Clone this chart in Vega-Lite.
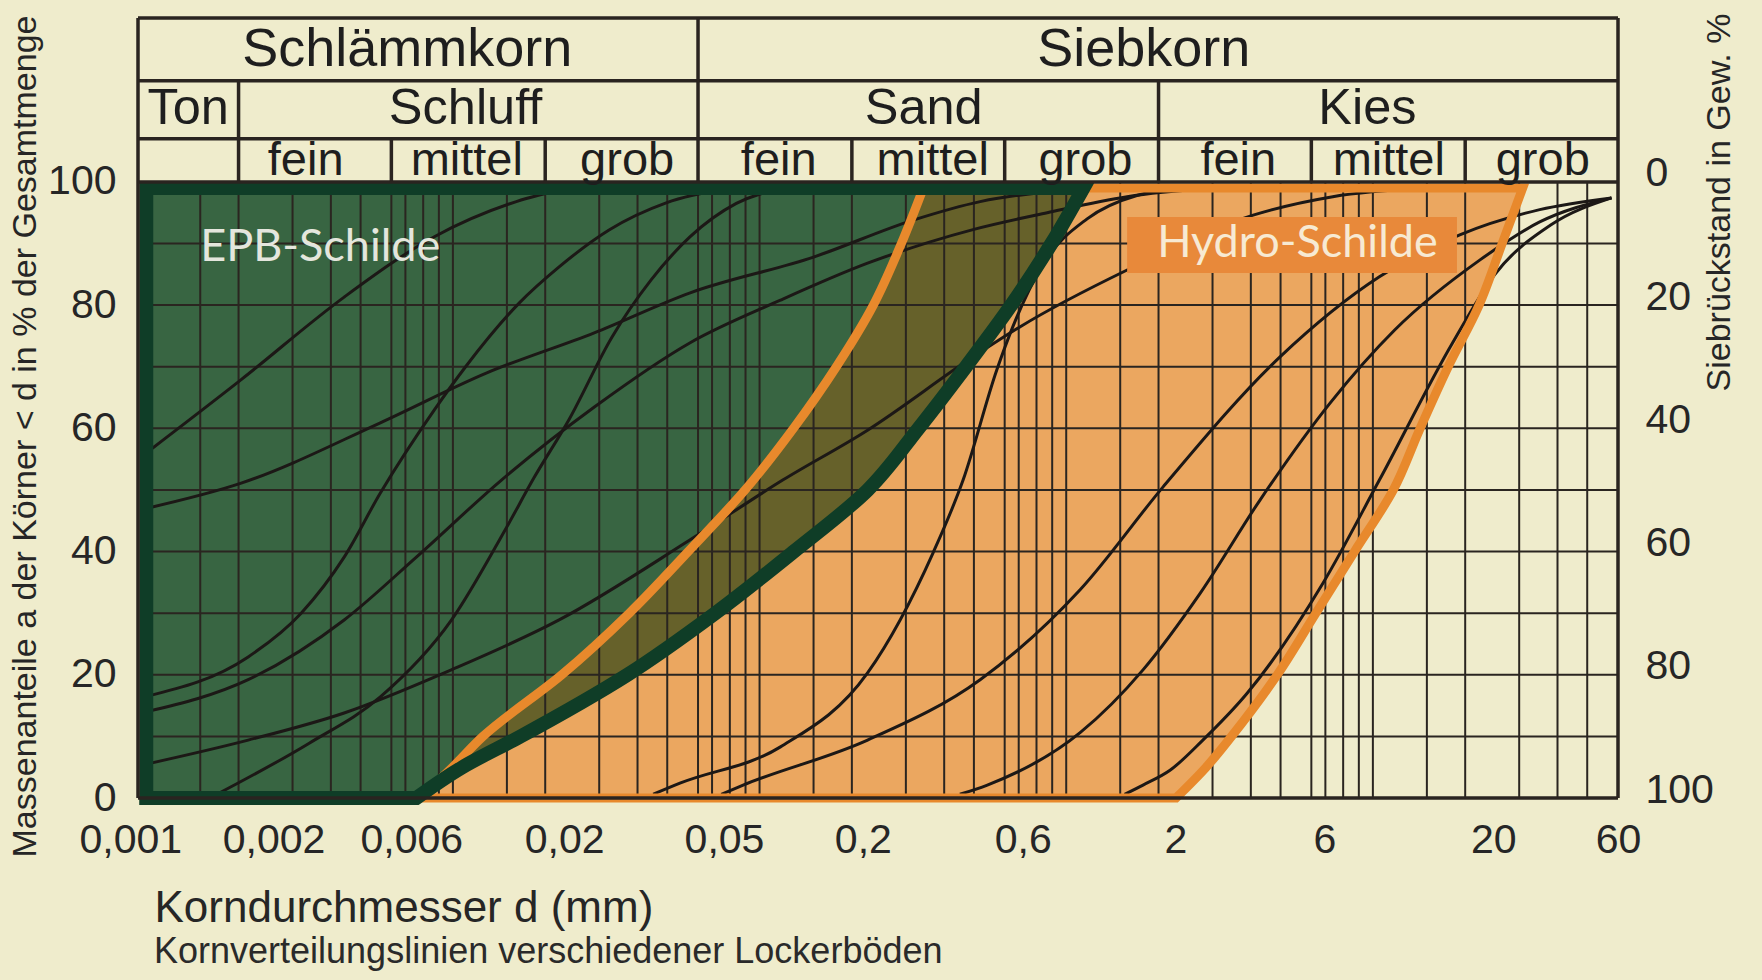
{
  "$schema": "https://vega.github.io/schema/vega-lite/v6.json",
  "width": 1480,
  "height": 780,
  "autosize": {"type": "none"},
  "padding": {"left": 138, "top": 18, "right": 144, "bottom": 182},
  "background": "#efeccc",
  "config": {"view": {"stroke": null}, "font": "Liberation Sans"},
  "title": {
    "text": "Kornverteilungslinien verschiedener Lockerböden",
    "orient": "bottom", "anchor": "start", "frame": "group",
    "fontSize": 36, "font": "Liberation Sans", "fontWeight": "normal",
    "color": "#2a2a2a", "dx": 16, "offset": 5, "baseline": "top"
  },
  "datasets": {
    "vgrid": [
      {"d": 0.0015}, {"d": 0.002}, {"d": 0.003}, {"d": 0.004}, {"d": 0.005}, {"d": 0.0063}, {"d": 0.007}, {"d": 0.008}, {"d": 0.009},
      {"d": 0.01}, {"d": 0.015}, {"d": 0.02}, {"d": 0.03}, {"d": 0.04}, {"d": 0.05}, {"d": 0.063}, {"d": 0.07}, {"d": 0.08}, {"d": 0.09},
      {"d": 0.1}, {"d": 0.15}, {"d": 0.2}, {"d": 0.3}, {"d": 0.4}, {"d": 0.5}, {"d": 0.63}, {"d": 0.7}, {"d": 0.8}, {"d": 0.9},
      {"d": 1}, {"d": 1.5}, {"d": 2}, {"d": 3}, {"d": 4}, {"d": 5}, {"d": 6.3}, {"d": 7}, {"d": 8}, {"d": 9},
      {"d": 10}, {"d": 15}, {"d": 20}, {"d": 30}, {"d": 40}, {"d": 50}
    ],
    "hgrid": [{"a": 10}, {"a": 20}, {"a": 30}, {"a": 40}, {"a": 50}, {"a": 60}, {"a": 70}, {"a": 80}, {"a": 90}],
    "green": [
      {"a": 0, "l": 0.001, "r": 0.0076}, {"a": 5, "l": 0.001, "r": 0.01074}, {"a": 10, "l": 0.001, "r": 0.01663},
      {"a": 20, "l": 0.001, "r": 0.0371}, {"a": 30, "l": 0.001, "r": 0.0718}, {"a": 40, "l": 0.001, "r": 0.1294},
      {"a": 50, "l": 0.001, "r": 0.2254}, {"a": 60, "l": 0.001, "r": 0.33}, {"a": 70, "l": 0.001, "r": 0.471},
      {"a": 80, "l": 0.001, "r": 0.662}, {"a": 90, "l": 0.001, "r": 0.895}, {"a": 99, "l": 0.001, "r": 1.138}
    ],
    "orange": [
      {"a": 0, "l": 0.0078, "r": 2.28}, {"a": 5, "l": 0.00997, "r": 2.86}, {"a": 10, "l": 0.01253, "r": 3.46},
      {"a": 20, "l": 0.02265, "r": 4.88}, {"a": 30, "l": 0.0376, "r": 6.52}, {"a": 40, "l": 0.0585, "r": 8.71},
      {"a": 50, "l": 0.0897, "r": 11.66}, {"a": 60, "l": 0.129, "r": 14.26}, {"a": 70, "l": 0.178, "r": 17.6},
      {"a": 80, "l": 0.235, "r": 22.2}, {"a": 90, "l": 0.29, "r": 26.4}, {"a": 99, "l": 0.342, "r": 30.8}
    ],
    "overlap": [
      {"a": 0, "l": 0.0078, "r": 0.0078}, {"a": 5, "l": 0.00997, "r": 0.01074}, {"a": 10, "l": 0.01253, "r": 0.01663},
      {"a": 20, "l": 0.02265, "r": 0.0371}, {"a": 30, "l": 0.0376, "r": 0.0718}, {"a": 40, "l": 0.0585, "r": 0.1294},
      {"a": 50, "l": 0.0897, "r": 0.2254}, {"a": 60, "l": 0.129, "r": 0.33}, {"a": 70, "l": 0.178, "r": 0.471},
      {"a": 80, "l": 0.235, "r": 0.662}, {"a": 90, "l": 0.29, "r": 0.895}, {"a": 99, "l": 0.342, "r": 1.138}
    ],
    "curves": [
      {"c": "A", "d": 0.001, "a": 56}, {"c": "A", "d": 0.00204, "a": 67.9}, {"c": "A", "d": 0.00442, "a": 81.3}, {"c": "A", "d": 0.0087, "a": 91.1}, {"c": "A", "d": 0.0161, "a": 96.8}, {"c": "A", "d": 0.024, "a": 99},
      {"c": "B", "d": 0.001, "a": 47}, {"c": "B", "d": 0.00204, "a": 51.1}, {"c": "B", "d": 0.0058, "a": 60.9}, {"c": "B", "d": 0.0129, "a": 69}, {"c": "B", "d": 0.0289, "a": 75.5}, {"c": "B", "d": 0.0594, "a": 82}, {"c": "B", "d": 0.15, "a": 87.8}, {"c": "B", "d": 0.317, "a": 93.8}, {"c": "B", "d": 0.524, "a": 96.8}, {"c": "B", "d": 1.0, "a": 98.6}, {"c": "B", "d": 1.6, "a": 99},
      {"c": "C", "d": 0.001, "a": 16.5}, {"c": "C", "d": 0.00215, "a": 22.9}, {"c": "C", "d": 0.0032, "a": 30}, {"c": "C", "d": 0.00442, "a": 39.1}, {"c": "C", "d": 0.0058, "a": 49.5}, {"c": "C", "d": 0.0087, "a": 63}, {"c": "C", "d": 0.011, "a": 70}, {"c": "C", "d": 0.0165, "a": 80.4}, {"c": "C", "d": 0.0222, "a": 86.2}, {"c": "C", "d": 0.0323, "a": 92.2}, {"c": "C", "d": 0.0496, "a": 96.6}, {"c": "C", "d": 0.08, "a": 99},
      {"c": "D", "d": 0.001, "a": 14}, {"c": "D", "d": 0.00215, "a": 19.2}, {"c": "D", "d": 0.00442, "a": 28.9}, {"c": "D", "d": 0.0076, "a": 39.1}, {"c": "D", "d": 0.0144, "a": 51.6}, {"c": "D", "d": 0.029, "a": 63.5}, {"c": "D", "d": 0.0594, "a": 73.9}, {"c": "D", "d": 0.117, "a": 80.8}, {"c": "D", "d": 0.225, "a": 86.8}, {"c": "D", "d": 0.5, "a": 92.3}, {"c": "D", "d": 0.867, "a": 95}, {"c": "D", "d": 1.58, "a": 97.6}, {"c": "D", "d": 3, "a": 99},
      {"c": "E", "d": 0.001, "a": 5.5}, {"c": "E", "d": 0.00215, "a": 9.4}, {"c": "E", "d": 0.00442, "a": 13.8}, {"c": "E", "d": 0.00988, "a": 20.8}, {"c": "E", "d": 0.0222, "a": 28.9}, {"c": "E", "d": 0.0594, "a": 41.9}, {"c": "E", "d": 0.119, "a": 51.6}, {"c": "E", "d": 0.225, "a": 59.7}, {"c": "E", "d": 0.497, "a": 71.6}, {"c": "E", "d": 0.708, "a": 76.5}, {"c": "E", "d": 1.58, "a": 85.7}, {"c": "E", "d": 4.07, "a": 94.6}, {"c": "E", "d": 7.4, "a": 97.6}, {"c": "E", "d": 15, "a": 99},
      {"c": "F", "d": 0.0017, "a": 0.6}, {"c": "F", "d": 0.0034, "a": 8.9}, {"c": "F", "d": 0.0058, "a": 16.4}, {"c": "F", "d": 0.0099, "a": 28.9}, {"c": "F", "d": 0.0148, "a": 43.5}, {"c": "F", "d": 0.0184, "a": 52}, {"c": "F", "d": 0.0239, "a": 61.4}, {"c": "F", "d": 0.033, "a": 74.8}, {"c": "F", "d": 0.0443, "a": 84.1}, {"c": "F", "d": 0.0594, "a": 91.1}, {"c": "F", "d": 0.084, "a": 96.5}, {"c": "F", "d": 0.12, "a": 99},
      {"c": "G", "d": 0.045, "a": 0.6}, {"c": "G", "d": 0.055, "a": 2.4}, {"c": "G", "d": 0.117, "a": 8.3}, {"c": "G", "d": 0.225, "a": 20.3}, {"c": "G", "d": 0.368, "a": 39.8}, {"c": "G", "d": 0.461, "a": 51.6}, {"c": "G", "d": 0.594, "a": 69.5}, {"c": "G", "d": 0.67, "a": 76.5}, {"c": "G", "d": 0.85, "a": 87}, {"c": "G", "d": 1.17, "a": 94}, {"c": "G", "d": 1.7, "a": 97.8}, {"c": "G", "d": 2.5, "a": 99},
      {"c": "H", "d": 0.075, "a": 0.6}, {"c": "H", "d": 0.0884, "a": 2.1}, {"c": "H", "d": 0.225, "a": 9.4}, {"c": "H", "d": 0.524, "a": 19.2}, {"c": "H", "d": 1.11, "a": 33.8}, {"c": "H", "d": 2.07, "a": 50.5}, {"c": "H", "d": 4.98, "a": 71.6}, {"c": "H", "d": 10.5, "a": 84.6}, {"c": "H", "d": 19.2, "a": 91.4}, {"c": "H", "d": 35, "a": 95.5}, {"c": "H", "d": 60, "a": 97.4},
      {"c": "I", "d": 0.45, "a": 0.6}, {"c": "I", "d": 0.553, "a": 2.1}, {"c": "I", "d": 1.11, "a": 10.6}, {"c": "I", "d": 1.78, "a": 20.8}, {"c": "I", "d": 2.74, "a": 33.3}, {"c": "I", "d": 4.29, "a": 48.4}, {"c": "I", "d": 7.25, "a": 64.1}, {"c": "I", "d": 11.8, "a": 76}, {"c": "I", "d": 22.3, "a": 87.3}, {"c": "I", "d": 35, "a": 93.5}, {"c": "I", "d": 60, "a": 97.4},
      {"c": "J", "d": 1.55, "a": 0.6}, {"c": "J", "d": 1.78, "a": 2.1}, {"c": "J", "d": 2.18, "a": 4.5}, {"c": "J", "d": 2.79, "a": 9.4}, {"c": "J", "d": 3.89, "a": 17}, {"c": "J", "d": 6.88, "a": 34.9}, {"c": "J", "d": 10.5, "a": 51.6}, {"c": "J", "d": 18.2, "a": 73.9}, {"c": "J", "d": 25, "a": 85}, {"c": "J", "d": 38, "a": 93}, {"c": "J", "d": 60, "a": 97.4}
    ],
    "frame": [
      {"x1": 0.00094, "x2": 63, "y1": 0, "y2": 0},
      {"x1": 0.00094, "x2": 63, "y1": 100, "y2": 100},
      {"x1": 0.00094, "x2": 63, "y1": 107, "y2": 107},
      {"x1": 0.00094, "x2": 63, "y1": 116.4, "y2": 116.4},
      {"x1": 0.00094, "x2": 63, "y1": 126.6, "y2": 126.6},
      {"x1": 0.00094, "x2": 0.00094, "y1": 0, "y2": 126.6},
      {"x1": 63, "x2": 63, "y1": 0, "y2": 126.6},
      {"x1": 0.063, "x2": 0.063, "y1": 100, "y2": 126.6},
      {"x1": 0.002, "x2": 0.002, "y1": 100, "y2": 116.4},
      {"x1": 2, "x2": 2, "y1": 100, "y2": 116.4},
      {"x1": 0.0063, "x2": 0.0063, "y1": 100, "y2": 107},
      {"x1": 0.02, "x2": 0.02, "y1": 100, "y2": 107},
      {"x1": 0.2, "x2": 0.2, "y1": 100, "y2": 107},
      {"x1": 0.63, "x2": 0.63, "y1": 100, "y2": 107},
      {"x1": 6.3, "x2": 6.3, "y1": 100, "y2": 107},
      {"x1": 20, "x2": 20, "y1": 100, "y2": 107}
    ],
    "header": [
      {"t": "Schlämmkorn", "d": 0.0071, "a": 121.4, "row": 1},
      {"t": "Siebkorn", "d": 1.79, "a": 121.4, "row": 1},
      {"t": "Ton", "d": 0.00137, "a": 111.8, "row": 2},
      {"t": "Schluff", "d": 0.011, "a": 111.8, "row": 2},
      {"t": "Sand", "d": 0.343, "a": 111.8, "row": 2},
      {"t": "Kies", "d": 9.6, "a": 111.8, "row": 2},
      {"t": "fein", "d": 0.00331, "a": 103.4, "row": 3},
      {"t": "mittel", "d": 0.0111, "a": 103.4, "row": 3},
      {"t": "grob", "d": 0.037, "a": 103.4, "row": 3},
      {"t": "fein", "d": 0.1155, "a": 103.4, "row": 3},
      {"t": "mittel", "d": 0.367, "a": 103.4, "row": 3},
      {"t": "grob", "d": 1.155, "a": 103.4, "row": 3},
      {"t": "fein", "d": 3.64, "a": 103.4, "row": 3},
      {"t": "mittel", "d": 11.27, "a": 103.4, "row": 3},
      {"t": "grob", "d": 35.8, "a": 103.4, "row": 3}
    ],
    "hbox": [{"x1": 1.58, "x2": 18.8, "y1": 85.2, "y2": 94.3}],
    "hydro": [{"t": "Hydro-Schilde", "d": 1.98, "a": 90.1}],
    "epb": [{"t": "EPB-Schilde", "d": 0.0015, "a": 89.4}]
  },
  "resolve": {"axis": {"x": "independent", "y": "independent"}},
  "layer": [
    {
      "data": {"name": "green"},
      "mark": {"type": "area", "orient": "horizontal", "interpolate": "monotone", "fill": "#386542"},
      "encoding": {
        "y": {"field": "a", "type": "quantitative", "scale": {"domain": [0, 126.6], "nice": false, "zero": false}, "axis": null},
        "x": {"field": "l", "type": "quantitative", "scale": {"type": "log", "domain": [0.00094, 63], "nice": false}, "axis": null},
        "x2": {"field": "r"}
      }
    },
    {
      "data": {"name": "orange"},
      "mark": {"type": "area", "orient": "horizontal", "interpolate": "monotone", "fill": "#eba760"},
      "encoding": {
        "y": {"field": "a", "type": "quantitative", "scale": {"domain": [0, 126.6], "nice": false, "zero": false}, "axis": null},
        "x": {"field": "l", "type": "quantitative", "scale": {"type": "log", "domain": [0.00094, 63], "nice": false}, "axis": null},
        "x2": {"field": "r"}
      }
    },
    {
      "data": {"name": "overlap"},
      "mark": {"type": "area", "orient": "horizontal", "interpolate": "monotone", "fill": "#66612a"},
      "encoding": {
        "y": {"field": "a", "type": "quantitative", "scale": {"domain": [0, 126.6], "nice": false, "zero": false}, "axis": null},
        "x": {"field": "l", "type": "quantitative", "scale": {"type": "log", "domain": [0.00094, 63], "nice": false}, "axis": null},
        "x2": {"field": "r"}
      }
    },
    {
      "data": {"name": "vgrid"},
      "mark": {"type": "rule", "stroke": "#2a2520", "strokeWidth": 2},
      "encoding": {
        "x": {
          "field": "d", "type": "quantitative",
          "scale": {"type": "log", "domain": [0.00094, 63], "nice": false},
          "axis": {
            "orient": "bottom",
            "values": [0.001, 0.002, 0.0063, 0.02, 0.063, 0.2, 0.63, 2, 6.3, 20, 63],
            "labelExpr": "datum.value < 0.0015 ? '0,001' : datum.value < 0.003 ? '0,002' : datum.value < 0.01 ? '0,006' : datum.value < 0.03 ? '0,02' : datum.value < 0.1 ? '0,05' : datum.value < 0.3 ? '0,2' : datum.value < 1 ? '0,6' : datum.value < 3 ? '2' : datum.value < 10 ? '6' : datum.value < 30 ? '20' : '60'",
            "labelOffset": {
              "condition": [
                {"test": "datum.value < 0.0015", "value": -16},
                {"test": "datum.value < 0.003", "value": 35},
                {"test": "datum.value < 0.01", "value": 20},
                {"test": "datum.value < 0.03", "value": 19},
                {"test": "datum.value < 0.1", "value": 26},
                {"test": "datum.value < 0.3", "value": 11},
                {"test": "datum.value < 1", "value": 18},
                {"test": "datum.value < 3", "value": 17},
                {"test": "datum.value < 10", "value": 13},
                {"test": "datum.value < 30", "value": 28}
              ],
              "value": 0
            },
            "labelFontSize": 41, "labelFont": "Liberation Sans", "labelColor": "#262626",
            "labelPadding": 22, "ticks": false, "domain": false, "grid": false,
            "labelOverlap": false, "labelFlush": false, "labelBound": false,
            "title": "Korndurchmesser d (mm)", "titleFontSize": 44, "titleFontWeight": "normal",
            "titleFont": "Liberation Sans", "titleColor": "#262626",
            "titleX": 16, "titleY": 110, "titleAlign": "left", "titleBaseline": "middle", "titleAngle": 0
          }
        },
        "y": {"datum": 0, "type": "quantitative", "scale": {"domain": [0, 126.6], "nice": false, "zero": false}, "axis": null},
        "y2": {"datum": 100}
      }
    },
    {
      "data": {"name": "hgrid"},
      "mark": {"type": "rule", "stroke": "#2a2520", "strokeWidth": 2},
      "encoding": {
        "y": {
          "field": "a", "type": "quantitative",
          "scale": {"domain": [0, 126.6], "nice": false, "zero": false},
          "axis": {
            "orient": "left", "values": [0, 20, 40, 60, 80, 100], "format": "d",
            "labelFontSize": 41, "labelFont": "Liberation Sans", "labelColor": "#262626",
            "labelPadding": 22, "labelAlign": "right", "labelBaseline": "middle",
            "ticks": false, "domain": false, "grid": false, "labelOverlap": false, "labelFlush": false,
            "title": "Massenanteile a der Körner < d in % der Gesamtmenge",
            "titleFontSize": 34, "titleFontWeight": "normal", "titleFont": "Liberation Sans", "titleColor": "#262626",
            "titleX": -113, "titleY": 418, "titleAngle": -90, "titleAlign": "center", "titleBaseline": "middle"
          }
        },
        "x": {"datum": 0.001, "type": "quantitative", "scale": {"type": "log", "domain": [0.00094, 63], "nice": false}, "axis": null},
        "x2": {"datum": 63}
      }
    },
    {
      "data": {"name": "curves"},
      "mark": {"type": "line", "interpolate": "monotone", "stroke": "#1c1816", "strokeWidth": 3},
      "encoding": {
        "x": {"field": "d", "type": "quantitative", "scale": {"type": "log", "domain": [0.00094, 63], "nice": false}, "axis": null},
        "y": {"field": "a", "type": "quantitative", "scale": {"domain": [0, 126.6], "nice": false, "zero": false}, "axis": null},
        "detail": {"field": "c", "type": "nominal"}
      }
    },
    {
      "data": {"name": "orange"},
      "mark": {"type": "area", "orient": "horizontal", "interpolate": "monotone", "fillOpacity": 0, "stroke": "#e8892c", "strokeWidth": 9},
      "encoding": {
        "y": {"field": "a", "type": "quantitative", "scale": {"domain": [0, 126.6], "nice": false, "zero": false}, "axis": null},
        "x": {"field": "l", "type": "quantitative", "scale": {"type": "log", "domain": [0.00094, 63], "nice": false}, "axis": null},
        "x2": {"field": "r"}
      }
    },
    {
      "data": {"name": "green"},
      "mark": {"type": "area", "orient": "horizontal", "interpolate": "monotone", "fillOpacity": 0, "stroke": "#0f3d27", "strokeWidth": 14},
      "encoding": {
        "y": {"field": "a", "type": "quantitative", "scale": {"domain": [0, 126.6], "nice": false, "zero": false}, "axis": null},
        "x": {"field": "l", "type": "quantitative", "scale": {"type": "log", "domain": [0.00094, 63], "nice": false}, "axis": null},
        "x2": {"field": "r"}
      }
    },
    {
      "data": {"name": "frame"},
      "mark": {"type": "rule", "stroke": "#2a2420", "strokeWidth": 3.5},
      "encoding": {
        "x": {"field": "x1", "type": "quantitative", "scale": {"type": "log", "domain": [0.00094, 63], "nice": false}, "axis": null},
        "x2": {"field": "x2"},
        "y": {
          "field": "y1", "type": "quantitative",
          "scale": {"domain": [0, 126.6], "nice": false, "zero": false},
          "axis": {
            "orient": "right", "values": [0, 20, 40, 60, 80, 100],
            "labelExpr": "'' + (100 - datum.value)",
            "labelFontSize": 41, "labelFont": "Liberation Sans", "labelColor": "#262626",
            "labelPadding": 27, "labelAlign": "left", "labelBaseline": "middle", "labelOffset": -8,
            "ticks": false, "domain": false, "grid": false, "labelOverlap": false, "labelFlush": false,
            "title": "Siebrückstand in Gew. %",
            "titleFontSize": 34, "titleFontWeight": "normal", "titleFont": "Liberation Sans", "titleColor": "#262626",
            "titleX": 101, "titleY": 184, "titleAngle": -90, "titleAlign": "center", "titleBaseline": "middle"
          }
        },
        "y2": {"field": "y2"}
      }
    },
    {
      "data": {"name": "hbox"},
      "mark": {"type": "rect", "fill": "#e8893a"},
      "encoding": {
        "x": {"field": "x1", "type": "quantitative", "scale": {"type": "log", "domain": [0.00094, 63], "nice": false}, "axis": null},
        "x2": {"field": "x2"},
        "y": {"field": "y1", "type": "quantitative", "scale": {"domain": [0, 126.6], "nice": false, "zero": false}, "axis": null},
        "y2": {"field": "y2"}
      }
    },
    {
      "data": {"name": "hydro"},
      "mark": {"type": "text", "align": "left", "baseline": "middle", "font": "Lato", "fontSize": 45, "fill": "#f7ead3"},
      "encoding": {
        "x": {"field": "d", "type": "quantitative", "scale": {"type": "log", "domain": [0.00094, 63], "nice": false}, "axis": null},
        "y": {"field": "a", "type": "quantitative", "scale": {"domain": [0, 126.6], "nice": false, "zero": false}, "axis": null},
        "text": {"field": "t"}
      }
    },
    {
      "data": {"name": "epb"},
      "mark": {"type": "text", "align": "left", "baseline": "middle", "font": "Lato", "fontSize": 45, "fill": "#e4e6dd"},
      "encoding": {
        "x": {"field": "d", "type": "quantitative", "scale": {"type": "log", "domain": [0.00094, 63], "nice": false}, "axis": null},
        "y": {"field": "a", "type": "quantitative", "scale": {"domain": [0, 126.6], "nice": false, "zero": false}, "axis": null},
        "text": {"field": "t"}
      }
    },
    {
      "data": {"name": "header"},
      "mark": {"type": "text", "align": "center", "baseline": "middle", "font": "Liberation Sans", "fill": "#1e1e1e"},
      "encoding": {
        "x": {"field": "d", "type": "quantitative", "scale": {"type": "log", "domain": [0.00094, 63], "nice": false}, "axis": null},
        "y": {"field": "a", "type": "quantitative", "scale": {"domain": [0, 126.6], "nice": false, "zero": false}, "axis": null},
        "text": {"field": "t"},
        "size": {"field": "row", "type": "ordinal", "scale": {"domain": [1, 2, 3], "range": [54, 47, 40]}, "legend": null}
      }
    }
  ]
}
